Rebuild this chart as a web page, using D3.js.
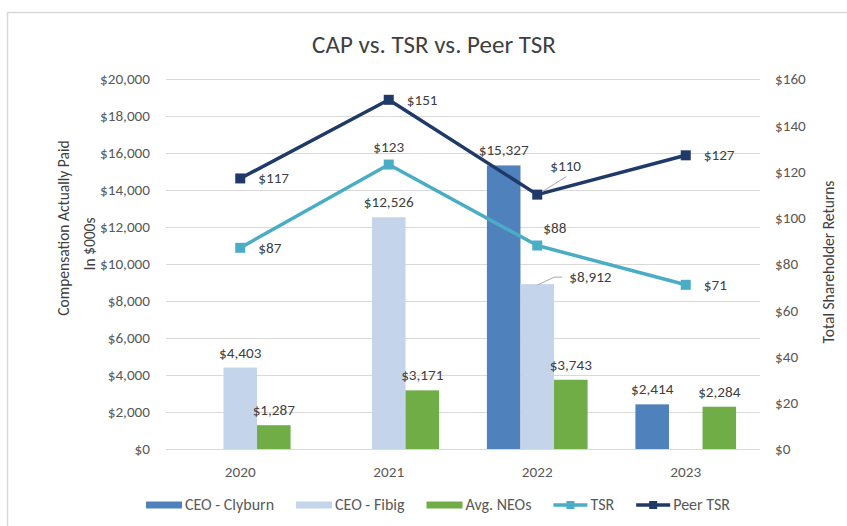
<!DOCTYPE html>
<html>
<head>
<meta charset="utf-8">
<script src="https://cdn.jsdelivr.net/npm/d3@7"></script>
<style>
  html, body { margin: 0; padding: 0; background: #fff; }
  svg { display: block; font-family: Carlito, Lato, "Open Sans", sans-serif; }
</style>
</head>
<body>
<svg id="chart" width="847" height="526"></svg>
<script>
// ---- Data ----
const years = ["2020", "2021", "2022", "2023"];
const ceoClyburn = [null, null, 15327, 2414];
const ceoFibig = [4403, 12526, 8912, null];
const avgNEOs = [1287, 3171, 3743, 2284];
const tsr = [87, 123, 88, 71];
const peerTsr = [117, 151, 110, 127];
const leftTicks = [0, 2000, 4000, 6000, 8000, 10000, 12000, 14000, 16000, 18000, 20000];
const rightTicks = [0, 20, 40, 60, 80, 100, 120, 140, 160];
const seriesNames = ["CEO - Clyburn", "CEO - Fibig", "Avg. NEOs", "TSR", "Peer TSR"];

const svg = d3.select("#chart");
const plot = { left: 166, right: 760, top: 79, bottom: 449 };

const colors = {
  clyburn: "#4F81BD",
  fibig: "#C4D5EB",
  neos: "#70AD47",
  tsr: "#4BACC6",
  peer: "#1F3A68",
  grid: "#D9D9D9",
  text: "#595959",
  label: "#404040"
};
const tickFont = "15.2px";
const labelFont = "15.2px";

// border
svg.append("rect").attr("x", 7.5).attr("y", 12.5).attr("width", 900).attr("height", 600)
  .attr("fill", "none").attr("stroke", "#D9D9D9").attr("stroke-width", 1.5);

const x = d3.scaleBand().domain(years).range([plot.left, plot.right]).padding(0);
const yL = d3.scaleLinear().domain([0, 20000]).range([plot.bottom, plot.top]);
const yR = d3.scaleLinear().domain([0, 160]).range([plot.bottom, plot.top]);
const fmt = d3.format(",");
const money = v => "$" + fmt(v);

// gridlines
svg.append("g").selectAll("line").data(leftTicks).join("line")
  .attr("x1", plot.left).attr("x2", plot.right)
  .attr("y1", d => Math.round(yL(d)) + 0.5).attr("y2", d => Math.round(yL(d)) + 0.5)
  .attr("stroke", colors.grid).attr("stroke-width", 1);

function styleAxis(g) {
  g.select(".domain").remove();
  g.selectAll("text").attr("fill", colors.text).style("font-size", tickFont)
    .attr("font-family", "Carlito, Lato, sans-serif");
}
// left axis
svg.append("g").attr("transform", `translate(${plot.left},0)`)
  .call(d3.axisLeft(yL).tickValues(leftTicks).tickFormat(money).tickSize(0).tickPadding(16))
  .call(styleAxis);
// right axis
svg.append("g").attr("transform", `translate(${plot.right},0)`)
  .call(d3.axisRight(yR).tickValues(rightTicks).tickFormat(money).tickSize(0).tickPadding(15))
  .call(styleAxis);
// bottom axis
svg.append("g").attr("transform", `translate(0,${plot.bottom})`)
  .call(d3.axisBottom(x).tickSize(0).tickPadding(17))
  .call(styleAxis);

// title
svg.append("text").attr("x", 434).attr("y", 53).attr("text-anchor", "middle")
  .attr("fill", "#404040").style("font-size", "25px").text("CAP vs. TSR vs. Peer TSR");

// axis titles
svg.append("text").attr("transform", "translate(69,228) rotate(-90)")
  .attr("text-anchor", "middle").attr("fill", "#404040").style("font-size", "15.5px")
  .text("Compensation Actually Paid");
svg.append("text").attr("transform", "translate(95,244) rotate(-90)")
  .attr("text-anchor", "middle").attr("fill", "#404040").style("font-size", "15.5px")
  .text("In $000s");
svg.append("text").attr("transform", "translate(834,262) rotate(-90)")
  .attr("text-anchor", "middle").attr("fill", "#404040").style("font-size", "15.5px")
  .text("Total Shareholder Returns");

// bars
const barW = x.step() * 0.226;
const barSeries = [
  { key: "clyburn", values: ceoClyburn, offset: -1.5 },
  { key: "fibig", values: ceoFibig, offset: -0.5 },
  { key: "neos", values: avgNEOs, offset: 0.5 }
];
const cx = yr => x(yr) + x.bandwidth() / 2;

barSeries.forEach(s => {
  const data = years.map((yr, i) => ({ yr, v: s.values[i] })).filter(d => d.v != null);
  svg.append("g").selectAll("rect").data(data).join("rect")
    .attr("x", d => cx(d.yr) + s.offset * barW)
    .attr("y", d => yL(d.v))
    .attr("width", barW)
    .attr("height", d => plot.bottom - yL(d.v))
    .attr("fill", colors[s.key]);
});

// bar labels
const labelStyle = sel => sel.attr("fill", colors.label).style("font-size", labelFont);
barSeries.forEach(s => {
  years.forEach((yr, i) => {
    const v = s.values[i];
    if (v == null) return;
    const bx = cx(yr) + (s.offset + 0.5) * barW;
    const by = yL(v);
    if (s.key === "fibig" && yr === "2022") {
      svg.append("path")
        .attr("d", `M${bx},${by + 1} L${bx + 17},${by - 7} L${bx + 25},${by - 7}`)
        .attr("fill", "none").attr("stroke", "#A6A6A6").attr("stroke-width", 1);
      svg.append("text").attr("x", bx + 32).attr("y", by - 2).call(labelStyle).text(money(v));
    } else {
      svg.append("text").attr("x", bx).attr("y", by - 10).attr("text-anchor", "middle")
        .call(labelStyle).text(money(v));
    }
  });
});

// lines
const lineSeries = [
  { key: "tsr", values: tsr },
  { key: "peer", values: peerTsr }
];
const lineGen = d3.line().x(d => cx(d.yr)).y(d => yR(d.v));
lineSeries.forEach(s => {
  const data = years.map((yr, i) => ({ yr, v: s.values[i] }));
  svg.append("path").datum(data).attr("d", lineGen)
    .attr("fill", "none").attr("stroke", colors[s.key]).attr("stroke-width", 3.5)
    .attr("stroke-linejoin", "round");
  svg.append("g").selectAll("rect").data(data).join("rect")
    .attr("x", d => cx(d.yr) - 5).attr("y", d => yR(d.v) - 5)
    .attr("width", 10).attr("height", 10).attr("fill", colors[s.key]);
});

// line labels
lineSeries.forEach(s => {
  years.forEach((yr, i) => {
    const v = s.values[i];
    const px = cx(yr), py = yR(v);
    let t;
    if (s.key === "tsr" && yr === "2021") {
      t = svg.append("text").attr("x", px).attr("y", py - 13).attr("text-anchor", "middle");
    } else if (s.key === "tsr" && yr === "2022") {
      t = svg.append("text").attr("x", px + 6).attr("y", py - 13);
    } else if (s.key === "peer" && yr === "2022") {
      svg.append("line").attr("x1", px + 5).attr("y1", py - 3).attr("x2", px + 29).attr("y2", py - 18)
        .attr("stroke", "#A6A6A6").attr("stroke-width", 1);
      t = svg.append("text").attr("x", px + 13).attr("y", py - 24);
    } else {
      t = svg.append("text").attr("x", px + 18).attr("y", py + 5);
    }
    t.call(labelStyle).text(money(v));
  });
});

// legend (laid out from measured text widths, centred)
const legendY = 505;
const legendKeys = ["clyburn", "fibig", "neos", "tsr", "peer"];
const legendTypes = ["bar", "bar", "bar", "line", "line"];
const legend = svg.append("g");
const items = seriesNames.map((name, i) => {
  const g = legend.append("g");
  const symW = legendTypes[i] === "bar" ? 36 : 34;
  if (legendTypes[i] === "bar") {
    g.append("rect").attr("x", 0).attr("y", legendY - 3.5).attr("width", symW).attr("height", 7)
      .attr("fill", colors[legendKeys[i]]);
  } else {
    g.append("line").attr("x1", 0).attr("x2", symW).attr("y1", legendY).attr("y2", legendY)
      .attr("stroke", colors[legendKeys[i]]).attr("stroke-width", 3.5);
    g.append("rect").attr("x", symW / 2 - 4).attr("y", legendY - 4).attr("width", 8).attr("height", 8)
      .attr("fill", colors[legendKeys[i]]);
  }
  const t = g.append("text").attr("x", symW + 3).attr("y", legendY + 5)
    .attr("fill", colors.text).style("font-size", "16px").text(name);
  const w = symW + 3 + t.node().getComputedTextLength();
  return { g, w };
});
const gap = 22;
const total = d3.sum(items, d => d.w) + gap * (items.length - 1);
let lx = 438 - total / 2;
items.forEach(it => {
  it.g.attr("transform", `translate(${lx},0)`);
  lx += it.w + gap;
});
</script>
</body>
</html>
